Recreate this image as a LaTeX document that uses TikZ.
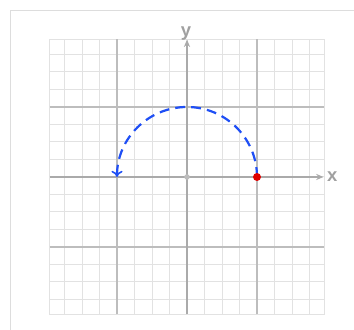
\documentclass[tikz,border=0pt]{standalone}
\usepackage{fontspec}
\setmainfont{Liberation Sans}
\usetikzlibrary{arrows.meta}
\definecolor{minorc}{HTML}{E2E2E2}
\definecolor{majorc}{HTML}{BDBDBD}
\definecolor{axisc}{HTML}{AAAAAA}
\definecolor{labc}{HTML}{A0A0A0}
\definecolor{pathc}{HTML}{1F4FF5}
\definecolor{dotc}{HTML}{E00000}
\definecolor{framec}{HTML}{DDDDDD}
\begin{document}
\begin{tikzpicture}[x=0.5cm,y=0.5cm,
  minorline/.style={draw=minorc,line width=0.8pt},
  majorline/.style={draw=majorc,line width=1.2pt},
  axisline/.style={draw=axisc,line width=1.5pt,-{Stealth[length=6pt,width=5pt]}},
  axislabel/.style={text=labc,font=\bfseries\fontsize{15}{15}\selectfont,inner sep=0pt},
  motion/.style={draw=pathc,line width=1.8pt,dash pattern=on 8pt off 5pt,-{To[length=5pt,width=9pt,line width=1.3pt]}},
  reddot/.style={circle,fill=dotc,inner sep=0pt,minimum size=6.5pt},
  greydot/.style={circle,fill=majorc,inner sep=0pt,minimum size=4.5pt}]
\useasboundingbox (-10.686,-8.743) rectangle (9.543,10.114);
% frame
\draw[framec,line width=0.8pt] (-10.114,-8.9) -- (-10.114,9.486) -- (9.7,9.486);
% grid
\def\g{7.857}
\foreach \i in {-7,...,7}{
  \draw[minorline] (\i,-\g) -- (\i,\g);
  \draw[minorline] (-\g,\i) -- (\g,\i);
}
\draw[minorline] (-\g,-\g) rectangle (\g,\g);
\foreach \i in {-4,4}{
  \draw[majorline] (\i,-\g) -- (\i,\g);
  \draw[majorline] (-\g,\i) -- (\g,\i);
}
% axes
\coordinate (xs) at (-\g,0);
\coordinate (xe) at (7.8,0);
\coordinate (ys) at (0,-\g);
\coordinate (ye) at (0,7.85);
\draw[axisline] (xs) -- (xe);
\draw[axisline] (ys) -- (ye);
\node[axislabel] (xl) at (8.3,0) {x};
\node[axislabel,anchor=base] (yl) at (-0.05,8.05) {y};
% points
\coordinate (O) at (0,0);
\coordinate (A) at (4,0);
\coordinate (B) at (-4,0);
\node[greydot] (o) at (O) {};
\draw[motion] (A) arc[start angle=0,end angle=180,radius=4];
\node[reddot] (p) at (A) {};
\end{tikzpicture}
\end{document}
